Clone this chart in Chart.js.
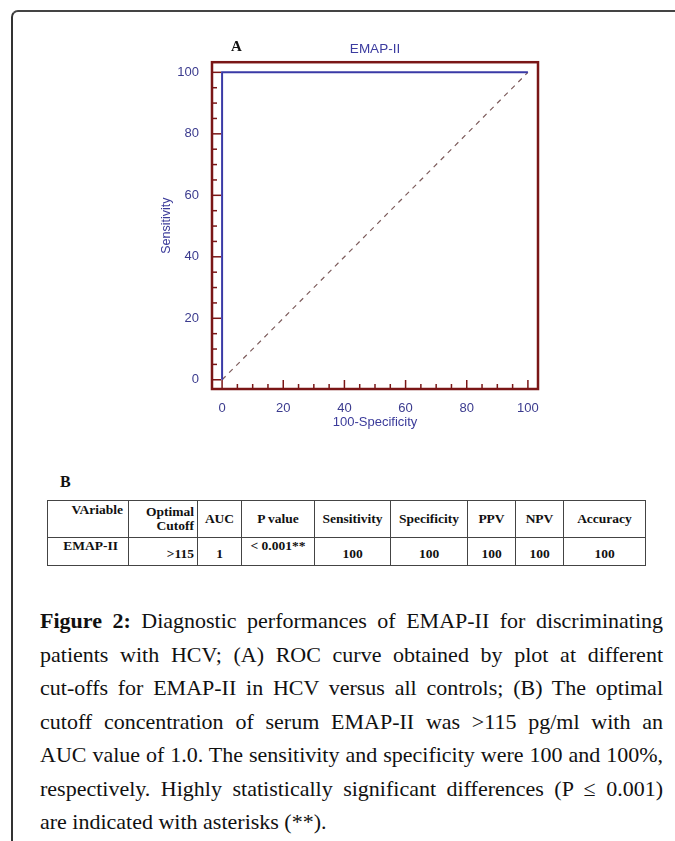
<!DOCTYPE html>
<html>
<head>
<meta charset="utf-8">
<script src="https://cdn.jsdelivr.net/npm/chart.js@4.4.1/dist/chart.umd.min.js"></script>
<style>
  html, body { margin: 0; padding: 0; background: #fff; }
  body { width: 675px; height: 841px; position: relative; overflow: hidden; }
  #frame { position: absolute; left: 11px; top: 10px; width: 700px; height: 900px;
           border-left: 2px solid #333; border-top: 2px solid #444; border-top-left-radius: 7px; }
  #chartBox { position: absolute; left: 0; top: 0; width: 675px; height: 460px; }
  .lbl { position: absolute; font-family: "Liberation Serif", serif; font-weight: bold; color: #111; }
  #tbl { position: absolute; left: 47px; top: 500px; border-collapse: collapse; table-layout: fixed;
         font-family: "Liberation Serif", serif; font-weight: bold; font-size: 13.5px; color: #111; }
  #tbl td { border: 1px solid #444; padding: 0 3px; line-height: 14px; box-sizing: border-box; }
  #tbl tr.h td { height: 37px; vertical-align: middle; text-align: center; }
  #tbl tr.d td { height: 28px; vertical-align: bottom; text-align: center; padding-bottom: 4px; }
  #caption { position: absolute; left: 40px; top: 604px; width: 623px;
             font-family: "Liberation Serif", serif; font-size: 22px; color: #111; }
  #caption div { line-height: 33.5px; height: 33.5px; white-space: nowrap;
                 text-align: justify; text-align-last: justify; }
  #caption div.last { text-align-last: left; }
</style>
</head>
<body>
<div id="frame"></div>
<div id="chartBox"><canvas id="roc"></canvas></div>
<div class="lbl" style="left:231px; top:38px; font-size:15px;">A</div>
<div class="lbl" style="left:60px; top:473px; font-size:16px;">B</div>
<table id="tbl"></table>
<div id="caption"></div>

<script>
// ROC curve of EMAP-II
const rocX = [0, 0, 100];
const rocY = [0, 100, 100];
// reference (chance) line
const refX = [0, 100];
const refY = [0, 100];
const xTicks = [0, 20, 40, 60, 80, 100];
const yTicks = [0, 20, 40, 60, 80, 100];
const minorStep = 5;

// table B
const tableHeaders = ['VAriable', 'Optimal<br>Cutoff', 'AUC', 'P value', 'Sensitivity', 'Specificity', 'PPV', 'NPV', 'Accuracy'];
const tableRow = ['EMAP-II', '>115', '1', '< 0.001**', '100', '100', '100', '100', '100'];
const colWidths = [81, 69, 44, 73, 76, 77, 48, 48, 82];

const captionLines = [
  '<b>Figure 2:</b> Diagnostic performances of EMAP-II for discriminating',
  'patients with HCV; (A) ROC curve obtained by plot at different',
  'cut-offs for EMAP-II in HCV versus all controls; (B) The optimal',
  'cutoff concentration of serum EMAP-II was &gt;115 pg/ml with an',
  'AUC value of 1.0. The sensitivity and specificity were 100 and 100%,',
  'respectively. Highly statistically significant differences (P \u2264 0.001)',
  'are indicated with asterisks (**).'
];

const tickBlue = '#3b3b8e';
const boxRed = '#7a1616';

const frameTicks = {
  id: 'frameTicks',
  beforeDatasetsDraw(chart) {
    const {ctx, chartArea: a, scales: {x, y}} = chart;
    ctx.save();
    ctx.strokeStyle = boxRed;
    ctx.lineWidth = 1.5;
    for (let v = xTicks[0]; v <= xTicks[xTicks.length - 1]; v += minorStep) {
      const len = xTicks.includes(v) ? 9 : 5;
      const px = x.getPixelForValue(v);
      ctx.beginPath();
      ctx.moveTo(px, a.bottom);
      ctx.lineTo(px, a.bottom - len);
      ctx.stroke();
    }
    for (let v = yTicks[0]; v <= yTicks[yTicks.length - 1]; v += minorStep) {
      const len = yTicks.includes(v) ? 9 : 5;
      const py = y.getPixelForValue(v);
      ctx.beginPath();
      ctx.moveTo(a.left, py);
      ctx.lineTo(a.left + len, py);
      ctx.stroke();
    }
    ctx.restore();
  },
  afterDatasetsDraw(chart) {
    const {ctx, chartArea: a} = chart;
    ctx.save();
    ctx.strokeStyle = boxRed;
    ctx.lineWidth = 2.5;
    ctx.strokeRect(a.left, a.top, a.right - a.left, a.bottom - a.top);
    ctx.restore();
  }
};

new Chart(document.getElementById('roc').getContext('2d'), {
  type: 'scatter',
  data: {
    datasets: [{
      label: 'EMAP-II',
      data: rocX.map((v, i) => ({x: v, y: rocY[i]})),
      showLine: true,
      borderColor: '#3a3aa6',
      borderWidth: 2,
      pointRadius: 0,
      fill: false
    }, {
      label: 'reference',
      data: refX.map((v, i) => ({x: v, y: refY[i]})),
      showLine: true,
      borderColor: '#7d5c5c',
      borderWidth: 1.2,
      borderDash: [5, 5],
      pointRadius: 0,
      fill: false
    }]
  },
  options: {
    responsive: true,
    maintainAspectRatio: false,
    animation: false,
    layout: { padding: { left: 150, right: 137, top: 0, bottom: 26 } },
    plugins: {
      legend: { display: false },
      tooltip: { enabled: false },
      title: {
        display: true,
        text: 'EMAP-II',
        fullSize: false,
        color: '#3c3ca0',
        font: { family: 'Liberation Sans', size: 13.5, weight: 'normal' },
        padding: { top: 41, bottom: 5 }
      }
    },
    scales: {
      x: {
        type: 'linear',
        min: -3.3,
        max: 103.3,
        grid: { display: false },
        border: { display: false },
        afterBuildTicks: s => { s.ticks = xTicks.map(v => ({value: v})); },
        afterFit: s => { s.height = 45; },
        ticks: { color: tickBlue, padding: 4, font: { family: 'Liberation Sans', size: 13 } },
        title: { display: true, text: '100-Specificity', color: '#3b3b9a',
                 font: { family: 'Liberation Sans', size: 13 }, padding: { top: 4, bottom: 4 } }
      },
      y: {
        type: 'linear',
        min: -3,
        max: 103.3,
        grid: { display: false },
        border: { display: false },
        afterBuildTicks: s => { s.ticks = yTicks.map(v => ({value: v})); },
        afterFit: s => { s.width = 62; },
        ticks: { color: tickBlue, padding: 5, font: { family: 'Liberation Sans', size: 13 } },
        title: { display: true, text: 'Sensitivity', color: '#3b3b9a',
                 font: { family: 'Liberation Sans', size: 12.5 }, padding: { top: 9.5, bottom: 0 } }
      }
    }
  },
  plugins: [frameTicks]
});

// table
const tbl = document.getElementById('tbl');
const cg = document.createElement('colgroup');
colWidths.forEach(w => { const c = document.createElement('col'); c.style.width = w + 'px'; cg.appendChild(c); });
tbl.appendChild(cg);
const hr = tbl.insertRow();
hr.className = 'h';
tableHeaders.forEach((t, i) => {
  const td = hr.insertCell();
  td.innerHTML = t;
  if (i === 0) { td.style.verticalAlign = 'top'; td.style.paddingTop = '2px'; td.style.textAlign = 'right'; td.style.paddingRight = '5px'; }
  if (i === 1) { td.style.textAlign = 'right'; }
});
const dr = tbl.insertRow();
dr.className = 'd';
tableRow.forEach((t, i) => {
  const td = dr.insertCell();
  td.textContent = t;
  if (i === 0 || i === 3) { td.style.verticalAlign = 'top'; td.style.paddingTop = '1px'; }
  if (i === 0) { td.style.textAlign = 'right'; td.style.paddingRight = '10px'; }
  if (i === 1) { td.style.textAlign = 'right'; }
});

// caption
const cap = document.getElementById('caption');
captionLines.forEach((l, i) => {
  const d = document.createElement('div');
  d.innerHTML = l;
  if (i === captionLines.length - 1) d.className = 'last';
  cap.appendChild(d);
});
</script>
</body>
</html>
